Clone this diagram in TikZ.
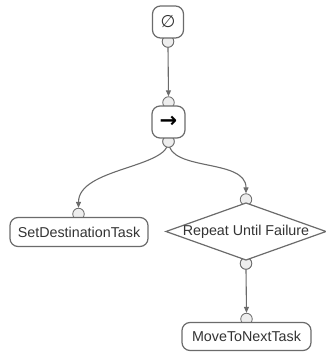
\documentclass[tikz,border=0pt]{standalone}
\usepackage{fontspec}
\setmainfont{Liberation Sans}
\newfontfamily\symfont{DejaVu Sans}
\usetikzlibrary{arrows.meta}
\definecolor{edgegray}{HTML}{6B6B6B}
\definecolor{portfill}{HTML}{EEEEEE}
\definecolor{textgray}{HTML}{333333}
\begin{document}
\begin{tikzpicture}[x=1pt,y=-1pt,
  task/.style={draw=edgegray, line width=1.2pt, fill=white, rounded corners=8pt,
    inner sep=0pt, font=\fontsize{14.3}{17}\selectfont, text=textgray},
  decision/.style={draw=edgegray, line width=1.2pt, fill=white},
  port/.style={circle, draw=edgegray, line width=0.8pt, fill=portfill,
    minimum size=11.5pt, inner sep=0pt},
  link/.style={draw=edgegray, line width=1.1pt, -{Triangle[length=6pt,width=5pt]}}
]
\useasboundingbox (0,0) rectangle (325,358);

% connection ports: small circles just outside the shape edges
\node[port] (rootout) at (168,41.5) {};
\node[port] (seqin)   at (168.5,102.5) {};
\node[port] (seqout)  at (168.5,141.5) {};
\node[port] (setin)   at (78.5,214) {};
\node[port] (repin)   at (246,199.5) {};
\node[port] (repout)  at (246,263.5) {};
\node[port] (movein)  at (246.5,319) {};

% connectors, starting from the port centres
\draw[link] (rootout.south) -- (seqin.north);
\draw[link] (seqout.center) .. controls (168.5,168) and (78.5,168) .. (setin.north);
\draw[link] (seqout.center) .. controls (168.5,172) and (246,158) .. (repin.north);
\draw[link] (repout.south) -- (movein.north);

% ports again on top of the connector starts
\foreach \p in {rootout,seqout,repout}
  \node[port] at (\p) {};

% root and sequence nodes
\node[task, minimum width=31pt, minimum height=32pt] (root) at (168,22)
  {\symfont\fontsize{17}{17}\selectfont ∅};
\node[task, minimum width=33pt, minimum height=32pt] (seq) at (168.5,122)
  {\symfont\bfseries\fontsize{21}{21}\selectfont\color{black}→};

% leaf tasks
\node[task, minimum width=138pt, minimum height=29pt] (set) at (79,232)
  {SetDestinationTask};
\node[task, minimum width=129pt, minimum height=28pt] (move) at (246.5,336.5)
  {MoveToNextTask};

% repeat decorator
\draw[decision] (166,231.5) -- (246,203) -- (326,231.5) -- (246,260) -- cycle;
\node[font=\fontsize{14.3}{17}\selectfont, text=textgray, inner sep=0pt] (rep)
  at (246,231.5) {Repeat Until Failure};
\end{tikzpicture}
\end{document}
